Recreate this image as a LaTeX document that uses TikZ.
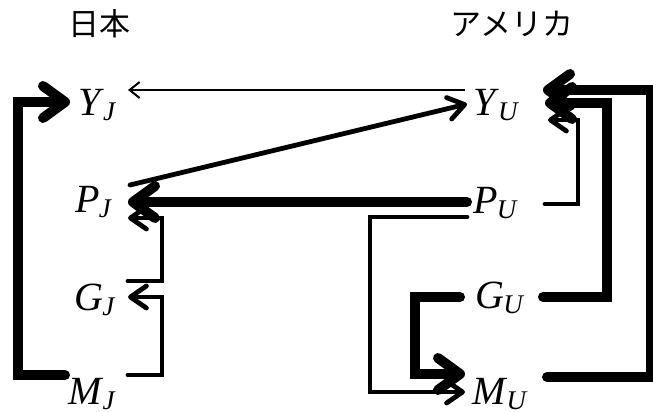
\documentclass[tikz,border=0pt]{standalone}
\usepackage{fontspec}
\setmainfont{Liberation Serif}
\newfontfamily\jpfont{Noto Sans CJK JP}
\usetikzlibrary{arrows.meta,calc}

\newcommand{\econ}[2]{\textit{#1}\kern-0.5pt\raisebox{-2.5pt}{\fontsize{13.5}{13.5}\selectfont\textit{#2}}}

\tikzset{
  thinarr/.style={
    line width=1pt,
    -{Straight Barb[length=5pt,width=8pt]}
  },
  midarr/.style={
    line width=2.4pt,
    line cap=round,
    -{Straight Barb[length=8pt,width=11pt,round]}
  },
  thickarr/.style={
    line width=5pt,
    line cap=round,
    -{Straight Barb[length=11pt,width=16pt,round]}
  },
  econvar/.style={
    anchor=base west,
    inner sep=0pt,
    font=\fontsize{20}{24}\selectfont
  },
  country/.style={
    font=\jpfont\fontsize{15.5}{18}\selectfont
  }
}

\begin{document}
\begin{tikzpicture}[x=0.5pt,y=-0.5pt]
    \useasboundingbox (0,0) rectangle (653,412);
    \clip (0,0) rectangle (653,412);
    % countries
    \node[country] (jp) at (99,24) {日本};
    \node[country] (us) at (512,24) {アメリカ};
    % Japan
    \node[econvar] (YJ) at (78,115) {\econ{Y}{J}};
    \node[econvar] (PJ) at (75,212) {\econ{P}{J}};
    \node[econvar] (GJ) at (74,310) {\econ{G}{J}};
    \node[econvar] (MJ) at (68,404) {\econ{M}{J}};
    % US
    \node[econvar] (YU) at (473,115) {\econ{Y}{U}};
    \node[econvar] (PU) at (473,213) {\econ{P}{U}};
    \node[econvar] (GU) at (475,308) {\econ{G}{U}};
    \node[econvar] (MU) at (472,404) {\econ{M}{U}};
    % links between the two
    \draw[thinarr] ($(YU.base west)+(-8,-25)$) -- ($(YJ.base west)+(50,-25)$);
    \draw[midarr] ($(PJ.base west)+(55,-27)$) -- ($(YU.base west)+(-6,-11)$);
    \draw[thickarr] ($(PU.base west)+(-6,-11)$) -- ($(PJ.base west)+(53,-10)$);
    % US side
    \draw[midarr] ($(PU.base west)+(-6,4)$) -- ++(-97,0) |- ($(MU.base west)+(-7,-12)$);
    \draw[thickarr] ($(GU.base west)+(-15,-11)$) -- ++(-45,0) |- ($(MU.base west)+(-7,-30)$);
    \draw[thickarr] ($(GU.base west)+(68,-11)$) -- ++(64,0) |- ($(YU.base west)+(72,-12)$);
    \draw[thickarr] ($(MU.base west)+(75,-27)$) -- ++(104,0) |- ($(YU.base west)+(70,-25)$);
    \draw[midarr] ($(PU.base west)+(72,-9)$) -- ++(33,0) |- ($(YU.base west)+(75,5)$);
    % Japan side
    \draw[thickarr] ($(MJ.base west)+(-3,-29)$) -- ++(-47,0) |- ($(YJ.base west)+(-8,-13)$);
    \draw[midarr] ($(MJ.base west)+(60,-29)$) -- ++(34,0) |- ($(GJ.base west)+(54,-13)$);
    \draw[midarr] ($(GJ.base west)+(54,-29)$) -- ++(34,0) |- ($(PJ.base west)+(53,6)$);
\end{tikzpicture}
\end{document}
